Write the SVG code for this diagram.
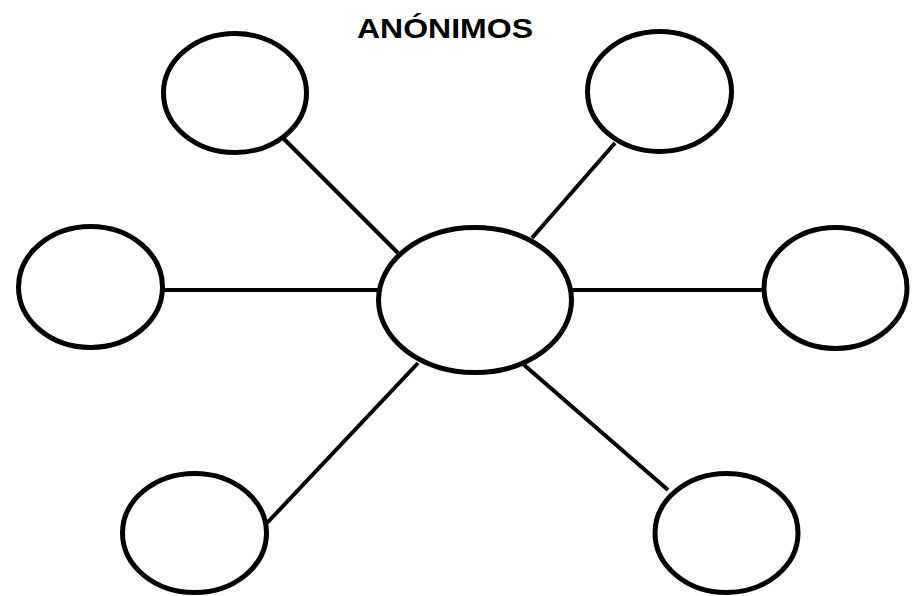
<svg xmlns="http://www.w3.org/2000/svg" width="920" height="596" viewBox="0 0 920 596">
<style>
.n{fill:#fff;stroke:#000;stroke-width:5}
.c line{stroke:#000;stroke-width:4}
.t{font-family:"Liberation Sans",Arial,sans-serif;font-weight:bold;font-size:28px;fill:#000}
</style>
<rect width="920" height="596" fill="#fff"/>
<text class="t" x="445" y="38" text-anchor="middle" textLength="176" lengthAdjust="spacingAndGlyphs">ANÓNIMOS</text>
<g class="c" id="connectors">
<line x1="283" y1="138" x2="398" y2="253"/>
<line x1="615" y1="143" x2="532" y2="238"/>
<line x1="163" y1="290" x2="380" y2="290"/>
<line x1="570" y1="290" x2="764" y2="290"/>
<line x1="418" y1="363" x2="267" y2="523"/>
<line x1="523" y1="364" x2="668" y2="490"/>
</g>
<g id="center"><ellipse class="n" cx="475" cy="300" rx="96.5" ry="72.5"/></g>
<g id="top-left"><ellipse class="n" cx="235" cy="93" rx="71.5" ry="59.5"/></g>
<g id="top-right"><ellipse class="n" cx="659.5" cy="91.5" rx="72" ry="60"/></g>
<g id="left"><ellipse class="n" cx="90.5" cy="287" rx="72" ry="60.5"/></g>
<g id="right"><ellipse class="n" cx="835.5" cy="288" rx="71.5" ry="60.5"/></g>
<g id="bottom-left"><ellipse class="n" cx="194.5" cy="533" rx="72" ry="59.5"/></g>
<g id="bottom-right"><ellipse class="n" cx="726.5" cy="533" rx="71.5" ry="59.5"/></g>
</svg>
